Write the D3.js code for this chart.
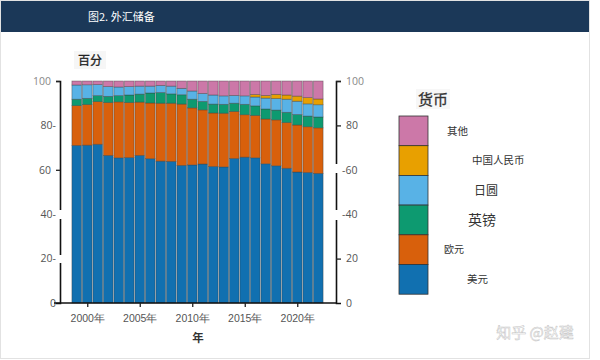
<!DOCTYPE html>
<html><head><meta charset="utf-8">
<script src="https://cdn.jsdelivr.net/npm/d3@7/dist/d3.min.js"></script>
<style>body{margin:0;background:#fff}svg{display:block;font-family:"Noto Sans CJK SC","Noto Sans",sans-serif}</style>
</head><body>
<script>
const years = [1999,2000,2001,2002,2003,2004,2005,2006,2007,2008,2009,2010,2011,2012,2013,2014,2015,2016,2017,2018,2019,2020,2021,2022];
const usd = [71.0,71.1,71.5,66.5,65.4,65.5,66.5,65.0,63.9,63.8,62.0,62.2,62.6,61.5,61.3,65.1,65.7,65.4,62.7,61.8,60.7,59.0,58.8,58.4];
const eur = [17.9,18.3,19.2,23.8,25.2,24.8,24.0,25.1,26.1,26.2,27.6,25.7,24.4,24.1,24.2,21.2,19.1,19.1,20.2,20.7,20.6,21.2,20.6,20.5];
const gbp = [2.9,2.8,2.7,2.8,2.8,3.4,3.6,4.5,4.8,4.2,4.2,3.9,3.8,4.0,4.0,3.7,4.7,4.3,4.5,4.4,4.6,4.7,4.8,4.9];
const jpy = [6.4,6.1,5.0,4.4,3.9,3.8,3.6,3.1,3.2,3.5,2.9,3.7,3.6,4.1,3.8,3.5,3.8,4.0,4.9,5.2,5.9,6.0,5.5,5.5];
const cny = [0,0,0,0,0,0,0,0,0,0,0,0,0,0,0,0,0,1.1,1.2,1.9,1.9,2.3,2.8,2.6];
const other = [1.8,1.7,1.6,2.5,2.7,2.5,2.3,2.3,2.0,2.3,3.3,4.5,5.6,6.3,6.7,6.5,6.7,6.1,6.5,6.0,6.3,6.8,7.5,8.1];
const seriesNames = ["美元","欧元","英镑","日圆","中国人民币","其他"];
const seriesColors = ["#1170b0","#d8600c","#0d9a70","#58b2e6","#e8a000","#cc78a8"];
const leftTicks = [0,20,40,60,80,100];
const leftTickLabels = ["0","20-","40-","60","80-","100"];
const rightTickLabels = ["0","20","-40","-60","80","100"];
const xTickYears = [2000,2005,2010,2015,2020];

const W=600,H=360;
const svg=d3.select("body").append("svg").attr("width",W).attr("height",H);
svg.append("rect").attr("x",0.5).attr("y",0.5).attr("width",589).attr("height",358).attr("fill","#fff").attr("stroke","#e2e2e2");
svg.append("rect").attr("x",1).attr("y",1).attr("width",588).attr("height",31).attr("fill","#1b3858");
svg.append("text").attr("x",88).attr("y",21).attr("fill","#fff").attr("font-size",11).text("图2. 外汇储备");

const x=d3.scaleBand().domain(years).range([71.5,323.5]).paddingInner(0.08).paddingOuter(0.04);
const y=d3.scaleLinear().domain([0,100]).range([303,81]);

const rows=years.map((yr,i)=>({year:yr,"美元":usd[i],"欧元":eur[i],"英镑":gbp[i],"日圆":jpy[i],"中国人民币":cny[i],"其他":other[i]}));
const stack=d3.stack().keys(seriesNames)(rows);
const g=svg.append("g");
stack.forEach((s,k)=>{
  g.selectAll(null).data(s.filter(d=>d[1]-d[0]>0)).join("rect")
   .attr("x",d=>x(d.data.year)).attr("width",x.bandwidth())
   .attr("y",d=>y(d[1])).attr("height",d=>y(d[0])-y(d[1]))
   .attr("fill",seriesColors[k]).attr("stroke","#3a3a3a").attr("stroke-opacity",0.55).attr("stroke-width",0.7);
});

const axL=svg.append("g").attr("transform","translate(60,0)")
  .call(d3.axisLeft(y).tickValues(leftTicks).tickSize(4).tickFormat((d,i)=>leftTickLabels[i]));
const axR=svg.append("g").attr("transform","translate(336,0)")
  .call(d3.axisRight(y).tickValues(leftTicks).tickSize(5).tickFormat((d,i)=>rightTickLabels[i]));
[axL,axR].forEach(a=>{a.select(".domain").attr("stroke","#111").attr("stroke-width",1.6);
  a.selectAll("text").attr("fill","#555").attr("font-size",10.5).attr("font-family","'Open Sans','DejaVu Sans',sans-serif");
  a.selectAll("line").attr("stroke","#222").attr("stroke-width",1.3);});
axL.selectAll(".tick line").attr("opacity",d=>(d===100||d===60)?1:0);
axL.selectAll(".tick text").attr("x",d=>(d===100||d===60)?-9:-4).attr("fill",d=>d===100?"#888":"#555");
axR.selectAll(".tick line").attr("opacity",d=>(d===100||d===80||d===20)?1:0);
axR.selectAll(".tick text").attr("x",d=>(d===60||d===40)?6:10).attr("fill",d=>d===100?"#888":"#555");

[[56,210,8,9],[56,255,8,8],[332,164,8,9],[332,210,8,10]].forEach(r=>svg.append("rect").attr("x",r[0]).attr("y",r[1]).attr("width",r[2]).attr("height",r[3]).attr("fill","#fff"));

const xs=d3.scaleLinear().domain([1999,2022]).range([x(1999)+x.bandwidth()/2,x(2022)+x.bandwidth()/2]);
const axB=svg.append("g").attr("transform","translate(0,303)")
  .call(d3.axisBottom(xs).tickValues(xTickYears).tickSize(4).tickSizeOuter(0).tickFormat(d=>d+"年"));
axB.select(".domain").attr("d","M54,0H337").attr("stroke","#111").attr("stroke-width",1.6);
axB.selectAll("line").attr("stroke","#222").attr("stroke-width",1.3);
axB.selectAll("text").attr("fill","#555").attr("font-size",10.5).attr("dy","1.1em");

svg.append("text").attr("x",198).attr("y",342).attr("text-anchor","middle").attr("font-size",11.5).attr("font-weight","bold").attr("fill","#333").text("年");
svg.append("rect").attr("x",74).attr("y",51).attr("width",32).attr("height",18).attr("fill","#f6f6f6");
svg.append("text").attr("x",90).attr("y",65).attr("text-anchor","middle").attr("font-size",12).attr("fill","#222").attr("stroke","#222").attr("stroke-width",0.3).text("百分");

const lg=svg.append("g");
lg.append("rect").attr("x",416).attr("y",89).attr("width",34).attr("height",20).attr("fill","#f7f7f7");
lg.append("text").attr("x",433).attr("y",105).attr("text-anchor","middle").attr("font-size",15).attr("fill","#333").attr("stroke","#333").attr("stroke-width",0.3).text("货币");
const legOrder=[5,4,3,2,1,0];
const labelPos=[[447,10.5],[472,10.5],[474,12],[468,14],[444,10],[467,10.5]];
legOrder.forEach((k,i)=>{
  const yy=116+i*29.7;
  lg.append("rect").attr("x",399).attr("y",yy).attr("width",29).attr("height",29.7).attr("fill",seriesColors[k]).attr("stroke","#333").attr("stroke-width",0.8);
  lg.append("text").attr("x",labelPos[i][0]).attr("y",yy+15).attr("dy","0.35em").attr("font-size",labelPos[i][1]).attr("fill","#333").text(seriesNames[k]);
});

svg.append("text").attr("x",535).attr("y",338).attr("text-anchor","middle").attr("font-size",15).attr("fill","#fff").attr("stroke","#c4c4c4").attr("stroke-width",0.5).text("知乎 @赵建");
</script>
</body></html>
